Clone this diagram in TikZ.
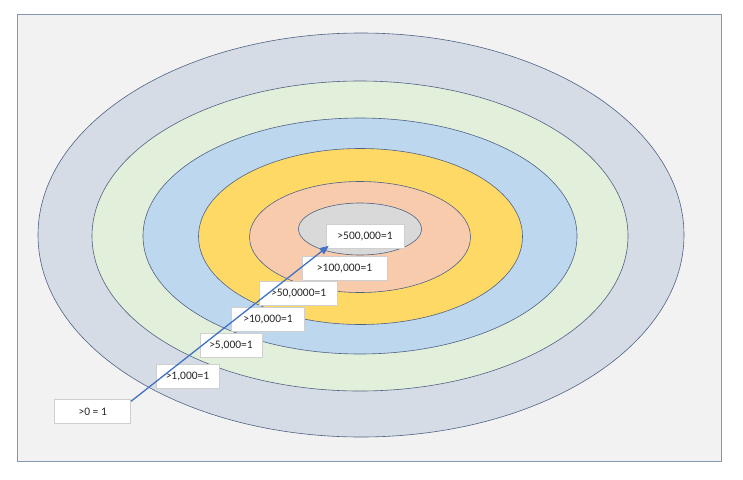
\documentclass[tikz,border=0pt]{standalone}
\usepackage{fontspec}
\setmainfont{Carlito}
\usetikzlibrary{arrows.meta,positioning}
\definecolor{PanelGray}{HTML}{F2F2F2}
\definecolor{FrameLine}{HTML}{8497B0}
\definecolor{RingLine}{HTML}{4F6284}
\definecolor{RingSlate}{HTML}{D6DCE5}
\definecolor{RingGreen}{HTML}{E2EFDA}
\definecolor{RingBlue}{HTML}{BDD7EE}
\definecolor{RingGold}{HTML}{FFD966}
\definecolor{RingPeach}{HTML}{F8CBAD}
\definecolor{RingCore}{HTML}{D9D9D9}
\definecolor{ArrowBlue}{HTML}{4472C4}
\definecolor{BoxLine}{HTML}{CFCFCF}
\definecolor{LabelText}{HTML}{262626}

\begin{document}
\begin{tikzpicture}[
  x=1pt, y=-1pt,
  ring/.style={draw=RingLine, line width=0.6pt},
  lbl/.style={draw=BoxLine, fill=white, line width=0.6pt, inner sep=0pt,
              minimum height=24pt, text=LabelText,
              font=\fontsize{11.5}{13}\selectfont},
  arr/.style={-{Triangle[length=9pt,width=7.5pt]}, draw=ArrowBlue,
              fill=ArrowBlue, line width=1.3pt}
]

\useasboundingbox[fill=white] (0,0) rectangle (743,479);
\draw[draw=FrameLine, fill=PanelGray, line width=0.8pt] (17,14) rectangle (721,461);

% rings, outer to inner
\draw[ring, fill=RingSlate] (361,235) ellipse [x radius=323pt, y radius=202pt];
\draw[ring, fill=RingGreen] (360,236) ellipse [x radius=268pt, y radius=155pt];
\draw[ring, fill=RingBlue]  (360,236) ellipse [x radius=217pt, y radius=118pt];
\draw[ring, fill=RingGold]  (360.5,236.5) ellipse [x radius=162pt, y radius=88pt];
\draw[ring, fill=RingPeach] (360,237) ellipse [x radius=110.5pt, y radius=55.5pt];
\draw[ring, fill=RingCore]  (360,229) ellipse [x radius=61.5pt, y radius=26pt];

% labels
\node[lbl, minimum width=78pt] (r500k) at (365,236.5) {>500,000=1};
\node[lbl, minimum width=85pt] (r100k) at (344.5,268.5) {>100,000=1};
\node[lbl, minimum width=78pt] (r50k) at (298.6,293.3) {>50,0000=1};
\node[lbl, minimum width=73pt] (r10k) at (268,319.3) {>10,000=1};
\node[lbl, minimum width=62pt] (r5k) at (231,345) {>5,000=1};
\node[lbl, minimum width=63pt] (r1k) at (187.5,376.5) {>1,000=1};
\node[lbl, minimum width=76pt] (r0) at (92.7,411.6) {>0 = 1};

\draw[arr] ([yshift=-2pt]r0.north east) -- ([xshift=3pt,yshift=3pt]r500k.south west);

\end{tikzpicture}
\end{document}
